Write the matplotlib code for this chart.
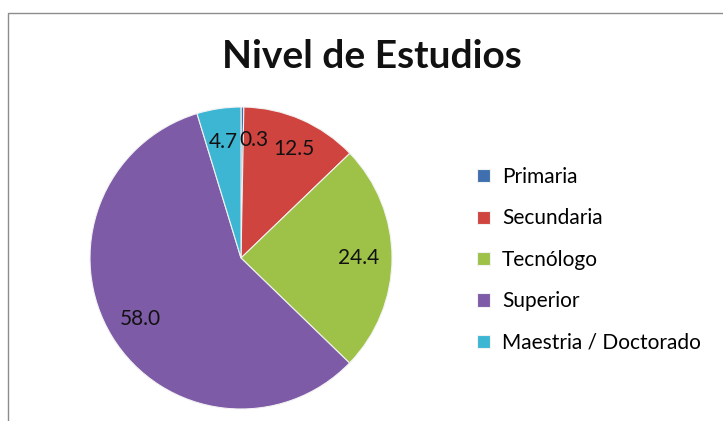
import matplotlib
matplotlib.use("Agg")
import matplotlib.pyplot as plt
from matplotlib.patches import Rectangle

plt.rcParams['font.family'] = ['Lato', 'DejaVu Sans']

title = "Nivel de Estudios"
categories = ["Primaria", "Secundaria", "Tecnólogo", "Superior", "Maestria / Doctorado"]
values = [0.3, 12.5, 24.4, 58.0, 4.7]
colors = ["#3F6FAE", "#D04440", "#9DC247", "#7E5BA6", "#3DB6D4"]

W, H = 723, 421
fig = plt.figure(figsize=(W / 100, H / 100), dpi=100)

# outer chart frame
fig.patches.append(Rectangle((8 / W, -0.1), 1.2, (H - 13) / H + 0.1,
                             transform=fig.transFigure, fill=False,
                             edgecolor="#8c8c8c", linewidth=1.0))

fig.text(372 / W, 1 - 57 / H, title, ha="center", va="center",
         fontsize=28, fontweight="bold", color="#111111")

cx, cy, r = 241, 258, 151
ax = fig.add_axes([(cx - r) / W, 1 - (cy + r) / H, 2 * r / W, 2 * r / H])
wedges, texts = ax.pie(values, colors=colors, startangle=90, counterclock=False,
                       labels=[f"{v:.1f}" for v in values], labeldistance=0.78,
                       wedgeprops=dict(edgecolor="#f2f2f2", linewidth=0.8),
                       textprops=dict(fontsize=15, color="#111111"))
for t in texts:
    t.set_ha("center")
    t.set_va("center")
# the tiny first slice's label sits just right of its neighbour's label
texts[0].set_ha("left")
texts[0].set_x(texts[0].get_position()[0] - 0.02)
x1, y1 = texts[1].get_position()
texts[1].set_position((x1 + 0.04, y1 + 0.01))
ax.set_xlim(-1, 1)
ax.set_ylim(-1, 1)
ax.set_aspect("auto")
ax.axis("off")

fig.legend(wedges, categories, loc="upper left",
           bbox_to_anchor=(477 / W, 1 - 167 / H), frameon=False,
           fontsize=15, handlelength=0.6, handleheight=0.6,
           handletextpad=0.6, labelspacing=1.03, borderpad=0, borderaxespad=0)

fig.savefig("out.png", dpi=100)
